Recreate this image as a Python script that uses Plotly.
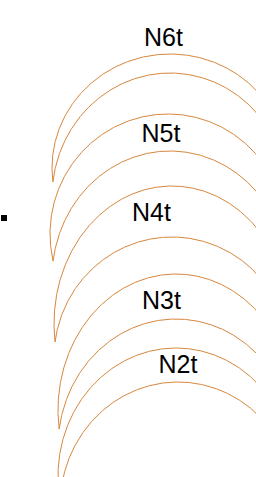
import numpy as np
import plotly.graph_objects as go

# Crescent labels (top to bottom)
labels = ["N6t", "N5t", "N4t", "N3t", "N2t"]

# Outer arc of each crescent: centre x, top y, vertical radius
outer_cx = [170, 168, 172, 176, 176]
outer_top = [54, 114, 186, 274, 348]
outer_ry = [114, 120, 137.6, 136, 128]

# Inner arc of each crescent: centre x, top y, vertical radius
inner_cx = [170, 170, 172, 176, 178]
inner_top = [73, 151, 237, 319, 382]
inner_ry = [124, 127, 121, 128, 124]

# Common horizontal radius
arc_rx = [118, 118, 118, 118, 118]

# Label anchor points
label_x = [163.5, 161, 151.5, 161.5, 178]
label_y = [40, 136, 215, 303, 367]

# Lone legend-like marker
marker_x = [4]
marker_y = [218]

W, H = 256, 477
LINE = "#d6873c"


def left_x(y, cx, cy, rx, ry):
    t = 1 - ((y - cy) / ry) ** 2
    return cx - rx * np.sqrt(np.clip(t, 0, None))


fig = go.Figure()

for i, lab in enumerate(labels):
    rx = arc_rx[i]
    ocx, ory = outer_cx[i], outer_ry[i]
    ocy = outer_top[i] + ory
    icx, iry = inner_cx[i], inner_ry[i]
    icy = inner_top[i] + iry

    # find the left tip where the two arcs meet
    ys = np.linspace(inner_top[i] + 1, min(ocy + ory, icy + iry) - 0.01, 6000)
    diff = left_x(ys, ocx, ocy, rx, ory) - left_x(ys, icx, icy, rx, iry)
    idx = np.where(diff >= 0)[0]
    if len(idx):
        ytip = ys[idx[0]]
    else:
        ytip = min(ocy + ory, icy + iry) - 0.01

    xs_all, ys_all = [], []
    for cx, cy, ry in ((ocx, ocy, ory), (icx, icy, iry)):
        xt = left_x(ytip, cx, cy, rx, ry)
        th0 = np.arctan2((cy - ytip) / ry, (xt - cx) / rx)
        if th0 < 0:
            th0 += 2 * np.pi
        th = np.linspace(th0, np.pi - th0, 600)
        xs_all += list(cx + rx * np.cos(th)) + [None]
        ys_all += list(cy - ry * np.sin(th)) + [None]

    fig.add_trace(go.Scatter(
        x=xs_all, y=ys_all, mode="lines",
        line=dict(color=LINE, width=1),
        hoverinfo="skip", showlegend=False,
    ))

fig.add_trace(go.Scatter(
    x=label_x, y=label_y, mode="text", text=labels,
    textposition="middle center",
    textfont=dict(family="Arial, Liberation Sans, sans-serif", size=25, color="#000000"),
    hoverinfo="skip", showlegend=False,
))

fig.add_trace(go.Scatter(
    x=marker_x, y=marker_y, mode="markers",
    marker=dict(symbol="square", size=6, color="#000000", line=dict(width=0)),
    hoverinfo="skip", showlegend=False,
))

fig.update_layout(
    width=W, height=H,
    margin=dict(l=0, r=0, t=0, b=0),
    paper_bgcolor="white", plot_bgcolor="white",
    xaxis=dict(range=[0, W], visible=False, fixedrange=True),
    yaxis=dict(range=[H, 0], visible=False, fixedrange=True),
)

fig.write_html(
    "out.html",
    config={"displayModeBar": False},
    post_script="document.body.style.margin='0';document.body.style.overflow='hidden';",
)
